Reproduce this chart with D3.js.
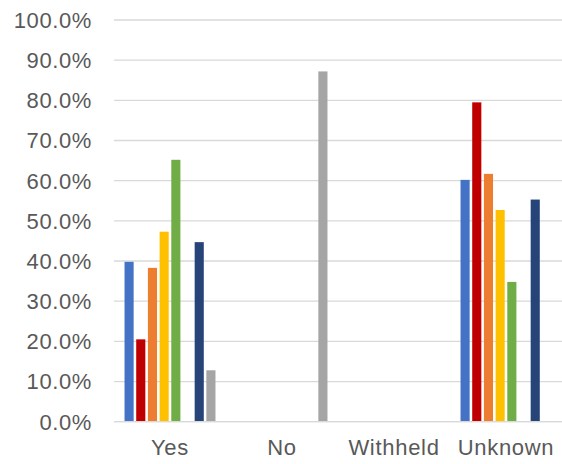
<!DOCTYPE html>
<html>
<head>
<meta charset="utf-8">
<script src="https://cdn.jsdelivr.net/npm/d3@7"></script>
<style>
  html, body { margin: 0; padding: 0; background: #fff; }
  svg { display: block; }
  text { font-family: "Liberation Sans", Arial, sans-serif; fill: #595959; }
</style>
</head>
<body>
<svg id="chart" width="562" height="464"></svg>
<script>
// Response categories along the x axis
const categories = ["Yes", "No", "Withheld", "Unknown"];

// Series names and colours (one bar per series in each category)
const seriesNames = ["S1", "S2", "S3", "S4", "S5", "S6", "S7", "S8"];
const seriesColors = ["#4472C4", "#C00000", "#ED7D31", "#FFC000", "#70AD47", "#5B9BD5", "#264478", "#A5A5A5"];

// Share of each series per category (fractions)
const s1 = [0.398, 0, 0, 0.602];
const s2 = [0.205, 0, 0, 0.795];
const s3 = [0.383, 0, 0, 0.617];
const s4 = [0.473, 0, 0, 0.527];
const s5 = [0.652, 0, 0, 0.348];
const s6 = [0, 0, 0, 0];
const s7 = [0.447, 0, 0, 0.553];
const s8 = [0.128, 0.872, 0, 0];
const seriesValues = [s1, s2, s3, s4, s5, s6, s7, s8];

// Y-axis ticks
const yTicks = [0, 0.1, 0.2, 0.3, 0.4, 0.5, 0.6, 0.7, 0.8, 0.9, 1.0];

const svg = d3.select("#chart");
const margin = { top: 20, right: 0, bottom: 42, left: 114 };
const W = 562, H = 464;

const x0 = d3.scaleBand()
  .domain(categories)
  .range([margin.left, W - margin.right])
  .paddingInner(0.165)
  .paddingOuter(0.0825);

const x1 = d3.scaleBand()
  .domain(seriesNames)
  .range([0, x0.bandwidth()])
  .paddingInner(0.22)
  .paddingOuter(0.11);

const y = d3.scaleLinear()
  .domain([0, 1])
  .range([H - margin.bottom - 0.3, margin.top]);

const fmt = d3.format(".1%");

// Horizontal gridlines
svg.append("g")
  .selectAll("line")
  .data(yTicks)
  .join("line")
  .attr("x1", margin.left)
  .attr("x2", W - margin.right)
  .attr("y1", d => y(d))
  .attr("y2", d => y(d))
  .attr("stroke", "#d9d9d9")
  .attr("stroke-width", 1.3);

// Y-axis labels
svg.append("g")
  .selectAll("text")
  .data(yTicks)
  .join("text")
  .attr("x", 92)
  .attr("y", d => y(d))
  .attr("dy", "0.36em")
  .attr("text-anchor", "end")
  .attr("font-size", 22)
  .attr("letter-spacing", 0.6)
  .text(d => fmt(d));

// Bars
const groups = svg.append("g")
  .selectAll("g")
  .data(categories)
  .join("g")
  .attr("transform", c => `translate(${x0(c)},0)`);

groups.selectAll("rect")
  .data((c, ci) => seriesNames.map((s, si) => ({ s, v: seriesValues[si][ci], color: seriesColors[si] })))
  .join("rect")
  .filter(d => d.v > 0)
  .attr("x", d => x1(d.s))
  .attr("width", x1.bandwidth())
  .attr("y", d => y(d.v))
  .attr("height", d => y(0) - y(d.v))
  .attr("fill", d => d.color);

// Baseline
svg.append("line")
  .attr("x1", margin.left)
  .attr("x2", W - margin.right)
  .attr("y1", y(0))
  .attr("y2", y(0))
  .attr("stroke", "#d9d9d9")
  .attr("stroke-width", 1.3);

// X-axis labels
svg.append("g")
  .selectAll("text")
  .data(categories)
  .join("text")
  .attr("x", c => x0(c) + x0.bandwidth() / 2)
  .attr("y", 455)
  .attr("text-anchor", "middle")
  .attr("font-size", 22)
  .attr("letter-spacing", 0.7)
  .text(c => c);
</script>
</body>
</html>
